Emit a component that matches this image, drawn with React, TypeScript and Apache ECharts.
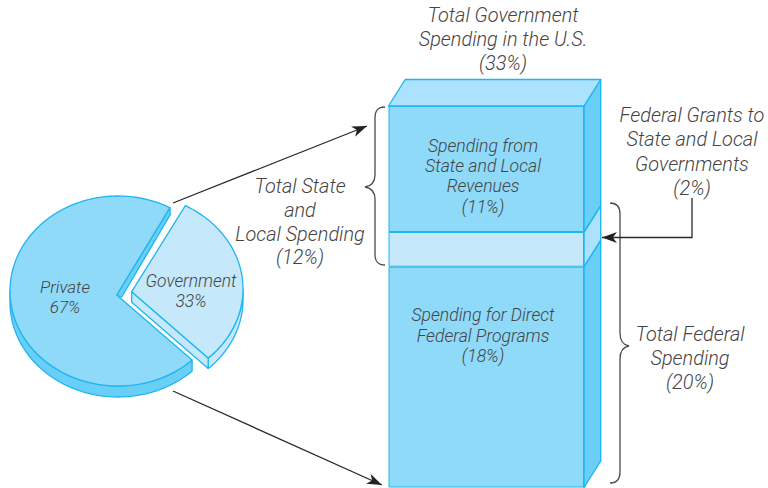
import React, { useEffect, useRef } from "react";
import * as echarts from "echarts";

const pieCategories = ["Private", "Government"];
const pieShares = [67, 33];
const columnCategory = ["Total Government Spending in the U.S."];
const columnSeriesNames = ["Spending for Direct Federal Programs", "Federal Grants to State and Local Governments", "Spending from State and Local Revenues"];
const columnValues = [19.1, 3.0, 10.9];
const columnMax = 33;

const BLUE_LINE = "#1DB6F0";
const MAIN = "#8FD9F9";
const PALE = "#C5E9FB";
const TOPFACE = "#ACE2FD";
const SIDE = "#69CFF7";
const INK = "#444444";
const FONT = "Roboto, 'Liberation Sans', Arial, sans-serif";

echarts.graphic.registerShape("leftBrace", echarts.graphic.extendPath("M385 107 C378 107 375 110 375 118 L375 175 C375 182 371 186 365 187 C371 188 375 192 375 199 L375 254 C375 262 378 265 385 265", {}));
echarts.graphic.registerShape("rightBrace", echarts.graphic.extendPath("M610 203 C617 203 620 207 620 214 L620 333 C620 340 623 345 629 346 C623 347 620 352 620 359 L620 472 C620 479 617 483 610 483", {}));

const warp = (deg: number) => deg - 6.2 * Math.sin((2 * (deg - 82.7) * Math.PI) / 180);

// Per-slice placement of the exploded, tilted disc.
const discs = [
  { cx: 118, cy: 291, rx: 108, ry: 95, ax: 116.7, ay: 295, depth: 11, fill: MAIN },
  { cx: 132, cy: 289, rx: 111, ry: 95, ax: 131.7, ay: 291.7, depth: 10.5, fill: PALE },
];
const START = 142.1;

function rim(d: any, from: number, to: number, dy = 0) {
  const pts: number[][] = [];
  const n = Math.max(2, Math.ceil(Math.abs(to - from) / 1.5));
  for (let i = 0; i <= n; i++) {
    const t = ((from + ((to - from) * i) / n) * Math.PI) / 180;
    pts.push([d.cx + d.rx * Math.sin(t), d.cy - d.ry * Math.cos(t) + dy]);
  }
  return pts;
}

function renderSlice(params: any, api: any) {
  const i = params.dataIndex;
  const before = pieShares.slice(0, i).reduce((a, b) => a + b, 0);
  const a0 = warp(START + (before * 360) / 100);
  const a1 = warp(START + ((before + api.value(0)) * 360) / 100);
  const d = discs[i];
  const line = { stroke: BLUE_LINE, lineWidth: 1.3, lineJoin: "round" };
  const children: any[] = [];
  const arc = rim(d, a0, a1);
  const last = arc[arc.length - 1];
  if (i === 0) {
    children.push({ type: "polygon", shape: { points: [...rim(d, a0, 270), ...rim(d, a0, 270, d.depth).reverse()] }, style: { fill: SIDE, ...line } });
    children.push({ type: "polygon", shape: { points: [[d.ax, d.ay], last, [last[0] + 0.3, last[1] + 7], [d.ax + 5, d.ay + 2]] }, style: { fill: SIDE, ...line } });
  } else {
    const end = a1 - 360;
    children.push({ type: "polygon", shape: { points: [...rim(d, 90, end), ...rim(d, 90, end, d.depth).reverse()] }, style: { fill: PALE, ...line } });
    children.push({ type: "polygon", shape: { points: [[d.ax, d.ay], last, [last[0], last[1] + d.depth], [d.ax, d.ay + d.depth]] }, style: { fill: PALE, ...line } });
  }
  children.push({ type: "polygon", shape: { points: [[d.ax, d.ay], ...arc] }, style: { fill: d.fill, ...line } });
  return { type: "group", children };
}

function renderColumn(params: any, api: any) {
  const i = params.dataIndex;
  const lower = columnValues.slice(0, i).reduce((a, b) => a + b, 0);
  const upper = lower + api.value(1);
  const half = api.size([1, 0])[0] / 2;
  const xr = api.coord([0, 0])[0] + half;
  const y0 = api.coord([0, lower])[1];
  const y1 = api.coord([0, upper])[1];
  const dx = 16.7;
  const dy = -26.5;
  const line = { stroke: BLUE_LINE, lineWidth: 1.4, lineJoin: "round" };
  const children: any[] = [
    { type: "polygon", shape: { points: [[xr, y0], [xr + dx, y0 + dy], [xr + dx, y1 + dy], [xr, y1]] }, style: { fill: i === 1 ? TOPFACE : SIDE, ...line } },
  ];
  if (i === columnValues.length - 1) {
    const xl = xr - 2 * half;
    children.push({ type: "polygon", shape: { points: [[xl, y1], [xl + dx, y1 + dy], [xr + dx, y1 + dy], [xr, y1]] }, style: { fill: TOPFACE, ...line } });
  }
  return { type: "group", children };
}

function arrowHead(x0: number, y0: number, x1: number, y1: number, len = 15, wid = 5.5) {
  const L = Math.hypot(x1 - x0, y1 - y0);
  const ux = (x1 - x0) / L;
  const uy = (y1 - y0) / L;
  return [
    [x1, y1],
    [x1 - ux * len - uy * wid, y1 - uy * len + ux * wid],
    [x1 - ux * len * 0.72, y1 - uy * len * 0.72],
    [x1 - ux * len + uy * wid, y1 - uy * len - ux * wid],
  ];
}

function block(lines: string[], cx: number, ys: number[], size: number) {
  return lines.map((t, i) => ({
    type: "text",
    x: cx,
    y: ys[i],
    z: 20,
    style: { text: t, fill: INK, font: `italic 300 ${size}px ${FONT}`, textAlign: "center", textVerticalAlign: "middle" },
  }));
}

function arrow(pts: number[][], tailFrom: number[]) {
  const tip = pts[pts.length - 1];
  return [
    { type: "polyline", z: 15, shape: { points: pts }, style: { fill: "none", stroke: "#2A2A2A", lineWidth: 1.3 } },
    { type: "polygon", z: 16, shape: { points: arrowHead(tailFrom[0], tailFrom[1], tip[0], tip[1]) }, style: { fill: "#222222" } },
  ];
}

export default function App() {
  const ref = useRef<HTMLDivElement>(null);
  useEffect(() => {
    document.body.style.margin = "0";
    const chart = echarts.init(ref.current!, null, { renderer: "svg" });
    chart.setOption({
      animation: false,
      backgroundColor: "#ffffff",
      grid: { left: 388.5, right: 184, top: 106, bottom: 0.5 },
      xAxis: { type: "category", data: columnCategory, show: false },
      yAxis: { type: "value", min: 0, max: columnMax, show: false },
      series: [
        {
          type: "custom",
          coordinateSystem: "none",
          name: "Spending",
          data: pieCategories.map((c, i) => ({ name: c, value: [pieShares[i]] })),
          renderItem: renderSlice,
          silent: true,
        },
        ...columnValues.map((v, i) => ({
          type: "bar",
          name: columnSeriesNames[i],
          stack: "column",
          barWidth: "100%",
          data: [v],
          itemStyle: { color: i === 1 ? PALE : MAIN, borderColor: BLUE_LINE, borderWidth: 1 },
          silent: true,
        })),
        {
          type: "custom",
          coordinateSystem: "cartesian2d",
          name: "Column depth",
          data: columnValues.map((v) => [0, v]),
          encode: { x: 0, y: 1 },
          renderItem: renderColumn,
          silent: true,
          clip: false,
        },
      ],
      graphic: [
        { type: "leftBrace", x: 0, y: 0, z: 14, style: { fill: "none", stroke: "#4A4A4A", lineWidth: 1.3 } },
        { type: "rightBrace", x: 0, y: 0, z: 14, style: { fill: "none", stroke: "#4A4A4A", lineWidth: 1.3 } },
        ...arrow([[173, 203], [367, 126]], [173, 203]),
        ...arrow([[173, 391], [382, 485]], [173, 391]),
        ...arrow([[692, 198], [692, 237.5], [602, 237.5]], [692, 237.5]),
        ...block(["Total Government", "Spending in the U.S.", "(33%)"], 503, [15, 39, 63], 19.9),
        ...block(["Federal Grants to", "State and Local", "Governments", "(2%)"], 692, [115, 139, 164, 188], 19.9),
        ...block(["Total Federal", "Spending", "(20%)"], 690, [334, 358, 382], 19.9),
        ...block(["Total State", "and", "Local Spending", "(12%)"], 300, [186, 210, 234, 257], 19.9),
        ...block(["Spending from", "State and Local", "Revenues", "(11%)"], 483, [146, 166, 186, 207], 17.6),
        ...block(["Spending for Direct", "Federal Programs", "(18%)"], 483, [315, 336, 356], 17.6),
        ...block(["Private", "67%"], 65, [287, 307], 17),
        ...block(["Government", "33%"], 191, [281, 301], 17.4),
      ],
    });
    return () => chart.dispose();
  }, []);
  return <div ref={ref} style={{ position: "absolute", left: 0, top: 0, width: 768, height: 488 }} />;
}
